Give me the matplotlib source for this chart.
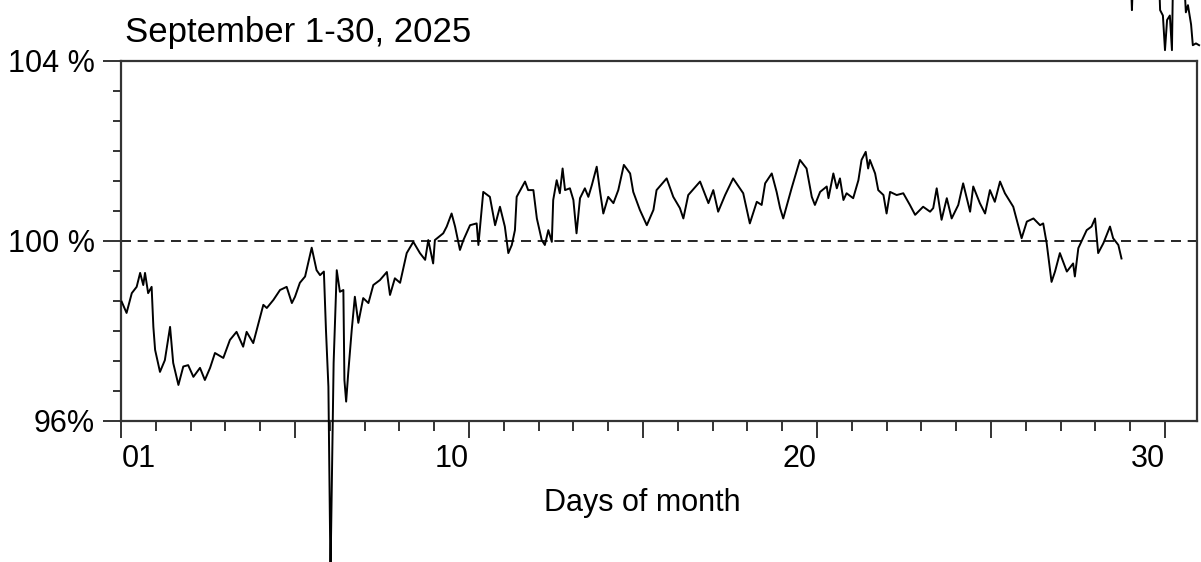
import matplotlib
matplotlib.use("Agg")
import matplotlib.pyplot as plt
import numpy as np
from matplotlib.ticker import FixedLocator, NullFormatter

plt.rcParams["font.family"] = ["Liberation Sans", "DejaVu Sans"]

# days elapsed since Sep 1 00:00, and value in percent of the reference level
day = [
    0.02, 0.16, 0.31, 0.45, 0.55, 0.64, 0.69, 0.78, 0.88, 0.93, 0.98, 1.12, 1.26, 1.41, 1.50,
    1.65, 1.79, 1.93, 2.08, 2.27, 2.41, 2.56, 2.70, 2.94, 3.13, 3.32, 3.51, 3.61, 3.80, 3.99,
    4.09, 4.19, 4.38, 4.57, 4.76, 4.91, 5.00, 5.14, 5.29, 5.48, 5.62, 5.72, 5.83, 5.89, 5.96,
    6.02, 6.11, 6.20, 6.29, 6.39, 6.42, 6.47, 6.53, 6.63, 6.72, 6.82, 6.96, 7.11, 7.25, 7.44,
    7.64, 7.73, 7.87, 8.02, 8.21, 8.40, 8.59, 8.74, 8.83, 8.97, 9.02, 9.26, 9.36, 9.50, 9.60,
    9.74, 9.84, 10.03, 10.22, 10.27, 10.41, 10.60, 10.75, 10.89, 11.03, 11.13, 11.23, 11.32,
    11.37, 11.61, 11.70, 11.85, 11.95, 12.09, 12.18, 12.28, 12.38, 12.42, 12.52, 12.61, 12.69,
    12.76, 12.90, 13.00, 13.09, 13.19, 13.33, 13.43, 13.53, 13.67, 13.76, 13.86, 14.00, 14.15,
    14.29, 14.45, 14.63, 14.72, 14.91, 15.11, 15.30, 15.39, 15.68, 15.87, 16.06, 16.16, 16.30,
    16.64, 16.88, 17.02, 17.16, 17.36, 17.59, 17.88, 18.07, 18.27, 18.41, 18.51, 18.70, 18.84,
    18.94, 19.03, 19.27, 19.51, 19.70, 19.85, 19.94, 20.09, 20.28, 20.33, 20.47, 20.57, 20.66,
    20.76, 20.85, 21.04, 21.19, 21.28, 21.40, 21.47, 21.52, 21.67, 21.76, 21.91, 22.00, 22.10,
    22.29, 22.48, 22.67, 22.82, 23.05, 23.25, 23.34, 23.44, 23.58, 23.73, 23.87, 24.06, 24.20,
    24.40, 24.49, 24.68, 24.83, 24.97, 25.11, 25.26, 25.40, 25.64, 25.74, 25.88, 26.03, 26.22,
    26.41, 26.50, 26.60, 26.74, 26.84, 26.98, 27.18, 27.36, 27.41, 27.51, 27.75, 27.89, 27.99,
    28.08, 28.23, 28.42, 28.51, 28.66, 28.75,
]
pct = [
    98.64, 98.39, 98.83, 98.97, 99.28, 99.01, 99.28, 98.83, 98.97, 98.08, 97.57, 97.08, 97.34,
    98.08, 97.28, 96.79, 97.20, 97.23, 96.97, 97.17, 96.90, 97.17, 97.50, 97.39, 97.79, 97.97,
    97.64, 97.97, 97.72, 98.28, 98.57, 98.50, 98.68, 98.90, 98.97, 98.61, 98.75, 99.06, 99.20,
    99.84, 99.34, 99.23, 99.31, 98.01, 96.75, 92.60, 97.28, 99.34, 98.86, 98.90, 96.90, 96.42,
    97.06, 98.01, 98.75, 98.17, 98.72, 98.61, 99.01, 99.12, 99.30, 98.79, 99.16, 99.06, 99.72,
    99.97, 99.72, 99.57, 100.01, 99.49, 100.01, 100.16, 100.31, 100.60, 100.31, 99.79, 100.01,
    100.34, 100.38, 99.90, 101.08, 100.97, 100.34, 100.75, 100.31, 99.72, 99.90, 100.23,
    100.97, 101.31, 101.12, 101.12, 100.49, 100.01, 99.90, 100.23, 99.97, 100.90, 101.34,
    101.05, 101.60, 101.12, 101.16, 100.90, 100.16, 100.94, 101.16, 100.97, 101.23, 101.64,
    101.12, 100.60, 100.97, 100.83, 101.12, 101.68, 101.49, 101.08, 100.68, 100.34, 100.68,
    101.12, 101.38, 100.97, 100.72, 100.49, 101.01, 101.31, 100.83, 101.12, 100.64, 101.01,
    101.38, 101.05, 100.38, 100.86, 100.79, 101.27, 101.49, 101.08, 100.72, 100.49, 101.16,
    101.79, 101.60, 100.97, 100.79, 101.08, 101.20, 100.94, 101.49, 101.16, 101.38, 100.90,
    101.05, 100.94, 101.34, 101.79, 101.97, 101.60, 101.79, 101.49, 101.12, 101.01, 100.60,
    101.08, 101.01, 101.05, 100.79, 100.57, 100.75, 100.64, 100.72, 101.16, 100.46, 100.94,
    100.49, 100.79, 101.27, 100.64, 101.20, 100.83, 100.60, 101.12, 100.86, 101.31, 101.05,
    100.75, 100.46, 100.05, 100.42, 100.49, 100.34, 100.38, 99.94, 99.08, 99.31, 99.72, 99.31,
    99.49, 99.20, 99.83, 100.23, 100.31, 100.49, 99.72, 99.94, 100.31, 100.05, 99.90, 99.60,
]

# stray trace fragments drawn above the frame at the right end
stray_day = [29.02, 29.05, 29.08, 29.83, 29.86, 29.94, 30.00, 30.06, 30.14, 30.20, 30.23,
             30.55, 30.60, 30.66, 30.75, 30.80, 30.89, 30.98]
stray_pct = [105.8, 105.12, 105.8, 105.8, 105.12, 105.0, 104.23, 104.9, 105.0, 104.23, 105.8,
             105.8, 105.07, 105.23, 104.8, 104.34, 104.38, 104.34]

x_labels = ["01", "10", "20", "30"]
x_label_pos = [1, 10, 20, 30]
y_major = [96, 100, 104]
y_labels = ["96%", "100 %", "104 %"]

W, H = 1201, 562
fig = plt.figure(figsize=(W / 100, H / 100), dpi=100)
ax = fig.add_axes([121 / W, 1 - 420.5 / H, (1197 - 121) / W, 360 / H])

ax.plot(day, pct, color="black", lw=1.4, clip_on=False, zorder=3)
ax.plot(stray_day, stray_pct, color="black", lw=1.4, clip_on=False, zorder=3)
ax.axhline(100, color="black", lw=1.2, linestyle=(0, (6, 4)), zorder=2)

ax.set_xlim(0, 30.92)
ax.set_ylim(96, 104)

for s in ax.spines.values():
    s.set_linewidth(1.6)
    s.set_color("#333333")

ax.xaxis.set_major_locator(FixedLocator(np.arange(0, 31, 5)))
ax.xaxis.set_minor_locator(FixedLocator(np.arange(0, 31, 1)))
ax.xaxis.set_major_formatter(NullFormatter())
ax.tick_params(axis="x", which="major", direction="out", length=12, width=1.4, color="#333333")
ax.tick_params(axis="x", which="minor", direction="out", length=7, width=1.4, color="#333333")

ax.yaxis.set_major_locator(FixedLocator(y_major))
ax.yaxis.set_minor_locator(FixedLocator(np.linspace(96, 104, 13)))
ax.set_yticklabels(y_labels)
ax.tick_params(axis="y", which="major", direction="out", length=13, width=1.4,
               color="#333333", labelsize=22, pad=6)
ax.tick_params(axis="y", which="minor", direction="out", length=6, width=1.4, color="#333333")

for pos, lab in zip(x_label_pos, x_labels):
    ax.text(pos, -0.107, lab, transform=ax.get_xaxis_transform(), ha="right", va="center",
            fontsize=22)

fig.text(642 / W, 1 - 503 / H, "Days of month", ha="center", va="center", fontsize=22)
fig.text(125 / W, 1 - 42 / H, "September 1-30, 2025", ha="left", va="baseline", fontsize=25)

fig.savefig("out.png", dpi=100)
